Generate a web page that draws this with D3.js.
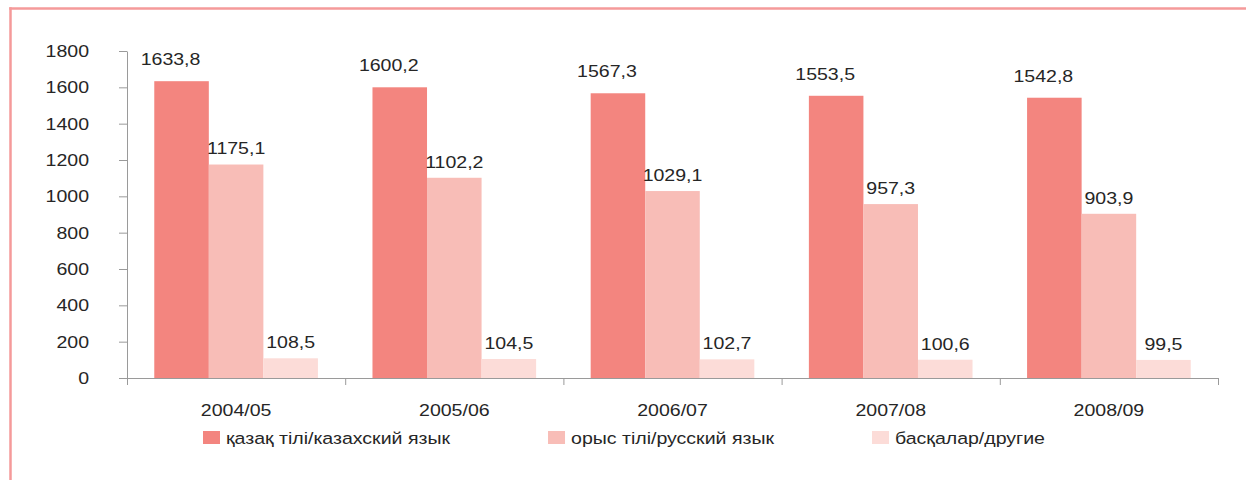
<!DOCTYPE html>
<html>
<head>
<meta charset="utf-8">
<script src="https://cdn.jsdelivr.net/npm/d3@7"></script>
<style>
  html, body { margin: 0; background: #fff; overflow: hidden; }
  svg { display: block; }
  text { font-family: "Liberation Sans", Arial, sans-serif; fill: #262626; }
</style>
</head>
<body>
<svg width="1246" height="480"></svg>
<script>
var categories = ["2004/05", "2005/06", "2006/07", "2007/08", "2008/09"];
var seriesNames = ["қазақ тілі/казахский язык", "орыс тілі/русский язык", "басқалар/другие"];
var kazakh = [1633.8, 1600.2, 1567.3, 1553.5, 1542.8];
var russian = [1175.1, 1102.2, 1029.1, 957.3, 903.9];
var others = [108.5, 104.5, 102.7, 100.6, 99.5];
var yTicks = [0, 200, 400, 600, 800, 1000, 1200, 1400, 1600, 1800];

var colors = ["#f3857f", "#f8bdb7", "#fcdcd8"];
var S = 1.15; // text in the picture is a bit wide
var FS = "17px";

var svg = d3.select("svg");
var margin = { left: 127, right: 1218, top: 51, bottom: 378 };

// pink frame: top and left edges
svg.append("line")
  .attr("x1", 9.25).attr("y1", 8.5).attr("x2", 1246).attr("y2", 8.5)
  .attr("stroke", "#f59a9a").attr("stroke-width", 2.5);
svg.append("line")
  .attr("x1", 10.5).attr("y1", 7.25).attr("x2", 10.5).attr("y2", 480)
  .attr("stroke", "#f59a9a").attr("stroke-width", 2.5);

var x0 = d3.scaleBand().domain(categories)
  .range([margin.left, margin.right])
  .paddingInner(0.25).paddingOuter(0.125);
var x1 = d3.scaleBand().domain([0, 1, 2]).range([0, x0.bandwidth()]);
var y = d3.scaleLinear().domain([0, 1800]).range([margin.bottom, margin.top]);

function stretch(sel) {
  sel.each(function() {
    var t = d3.select(this);
    var x = +t.attr("x") || 0;
    t.attr("x", x / S).attr("transform", "scale(" + S + ",1)");
  });
}

var series = [kazakh, russian, others];
var rows = categories.map(function(c, i) {
  return { cat: c, vals: series.map(function(s, k) { return { k: k, v: s[i] }; }) };
});

// bars
var groups = svg.selectAll(".grp").data(rows).enter().append("g")
  .attr("class", "grp")
  .attr("transform", function(d) { return "translate(" + x0(d.cat) + ",0)"; });

groups.selectAll("rect").data(function(d) { return d.vals; }).enter().append("rect")
  .attr("x", function(d) { return x1(d.k); })
  .attr("width", x1.bandwidth())
  .attr("y", function(d) { return y(d.v); })
  .attr("height", function(d) { return y(0) - y(d.v); })
  .attr("fill", function(d) { return colors[d.k]; });

var labelDx = [-11, 0, 0], labelDy = [-22, -16, -16];
groups.selectAll("text.val").data(function(d) { return d.vals; }).enter().append("text")
  .attr("class", "val")
  .attr("x", function(d) { return x1(d.k) + x1.bandwidth() / 2 + labelDx[d.k]; })
  .attr("y", function(d) { return y(d.v) + labelDy[d.k]; })
  .attr("dy", "0.35em")
  .attr("text-anchor", "middle")
  .style("font-size", FS)
  .text(function(d) { return d3.format(".1f")(d.v).replace(".", ","); })
  .each(function() {
    // stretch around its own x
    var t = d3.select(this), x = +t.attr("x");
    t.attr("x", 0).attr("transform", "translate(" + x + ",0) scale(" + S + ",1)");
  });

// y axis
var yAxis = svg.append("g")
  .attr("transform", "translate(" + margin.left + ",0)")
  .call(d3.axisLeft(y).tickValues(yTicks).tickFormat(d3.format("d"))
    .tickSize(8).tickPadding(30).tickSizeOuter(0));
yAxis.selectAll("path, line").attr("stroke", "#9a9a9a");
yAxis.selectAll("text").style("font-size", FS).attr("fill", "#262626").call(stretch);

// x axis: boundary ticks
var bounds = d3.scaleLinear().domain([0, categories.length]).range([margin.left, margin.right]);
var xAxis = svg.append("g")
  .attr("transform", "translate(0," + margin.bottom + ")")
  .call(d3.axisBottom(bounds).ticks(categories.length).tickFormat("").tickSizeInner(7).tickSizeOuter(0));
xAxis.selectAll("path, line").attr("stroke", "#9a9a9a");

var xLabels = svg.append("g")
  .attr("transform", "translate(0," + margin.bottom + ")")
  .call(d3.axisBottom(x0).tickSize(0).tickPadding(26));
xLabels.select(".domain").remove();
xLabels.selectAll("text").style("font-size", FS).attr("fill", "#262626").call(stretch);

// legend
var legend = svg.append("g").attr("transform", "translate(203,431)");
var lx = 0;
seriesNames.forEach(function(name, k) {
  var g = legend.append("g").attr("transform", "translate(" + lx + ",0)");
  g.append("rect").attr("width", 17).attr("height", 13).attr("fill", colors[k]);
  var t = g.append("text")
    .attr("x", 23 / S).attr("y", 13)
    .attr("transform", "scale(" + S + ",1)")
    .style("font-size", FS)
    .text(name);
  lx += 23 + t.node().getComputedTextLength() * S + 98;
});
</script>
</body>
</html>
